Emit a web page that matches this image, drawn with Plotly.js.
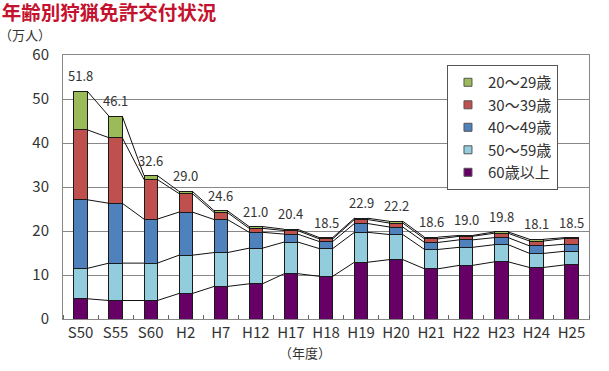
<!DOCTYPE html>
<html><head><meta charset="utf-8">
<script src="https://cdn.plot.ly/plotly-3.0.1.min.js"></script>
<style>html,body{margin:0;padding:0;background:#fff;}#chart{width:609px;height:371px;}</style>
</head><body><div id="chart"></div>
<script>
const categories = ['S50','S55','S60','H2','H7','H12','H17','H18','H19','H20','H21','H22','H23','H24','H25'];
const totalLabels = ['51.8','46.1','32.6','29.0','24.6','21.0','20.4','18.5','22.9','22.2','18.6','19.0','19.8','18.1','18.5'];
const age60plus = [4.6,4.2,4.2,5.8,7.4,8.0,10.3,9.7,12.9,13.5,11.4,12.2,13.0,11.7,12.3];
const age50s = [6.9,8.5,8.5,8.7,7.7,8.1,7.2,6.3,6.8,5.7,4.4,4.1,3.9,3.2,3.1];
const age40s = [15.6,13.6,10.0,9.8,7.5,3.6,1.8,1.6,2.0,1.7,1.6,1.7,1.6,1.7,1.6];
const age30s = [15.9,14.9,9.0,4.2,1.6,0.9,0.8,0.6,0.9,0.9,0.8,0.8,1.0,1.1,1.3];
const age20s = [8.8,4.9,0.9,0.5,0.4,0.4,0.3,0.3,0.3,0.4,0.4,0.2,0.3,0.4,0.2];
const seriesNames = ['60歳以上','50～59歳','40～49歳','30～39歳','20～29歳'];
const seriesColors = ['#660066','#93cddd','#4f81bd','#c0504d','#9bbb59'];

const series = [age60plus, age50s, age40s, age30s, age20s];
const FONT = '"Noto Sans CJK JP", "Noto Sans", sans-serif';
const idx = categories.map((c,i)=>i);
const BW = 0.38;

const traces = [];
series.forEach((vals,k)=>{
  traces.push({type:'bar', x:idx, y:vals, width:BW, name:seriesNames[k], showlegend:false,
    marker:{color:seriesColors[k], line:{color:'#1a1a1a', width:1}}, hoverinfo:'skip'});
});
// series lines connecting stack boundaries
const cum = [];
let run = idx.map(()=>0);
series.forEach(vals=>{ run = run.map((r,i)=>r+vals[i]); cum.push(run.slice()); });
cum.forEach(levels=>{
  const xs=[], ys=[];
  for(let i=0;i<idx.length-1;i++){
    xs.push(idx[i]+BW/2, idx[i+1]-BW/2, null);
    ys.push(levels[i], levels[i+1], null);
  }
  traces.push({type:'scatter', mode:'lines', x:xs, y:ys, showlegend:false, hoverinfo:'skip',
    line:{color:'#111', width:1}});
});
// legend entries (small squares)
series.forEach((vals,k)=>{
  traces.push({type:'scatter', mode:'markers', x:[null], y:[null], name:seriesNames[k],
    marker:{symbol:'square', size:8, color:seriesColors[k], line:{color:'#555', width:1}}});
});

const totals = cum[cum.length-1];
const annotations = idx.map(i=>({x:idx[i], y:totals[i], xref:'x', yref:'y', text:totalLabels[i],
  showarrow:false, yanchor:'bottom', yshift:4, font:{family:FONT, size:13, color:'#333'}}));
annotations.push({xref:'paper', yref:'paper', x:0.46, y:-0.085, yanchor:'top', text:'（年度）',
  showarrow:false, font:{family:FONT, size:13, color:'#333'}});
annotations.push({xref:'paper', yref:'paper', x:-0.125, y:1.035, xanchor:'left', yanchor:'bottom', text:'（万人）',
  showarrow:false, font:{family:FONT, size:13, color:'#333'}});

const layout = {
  width:609, height:371,
  margin:{l:63, r:20, t:55, b:52},
  paper_bgcolor:'#fff', plot_bgcolor:'#fff',
  barmode:'stack',
  title:{text:'<b>年齢別狩猟免許交付状況</b>', x:0.003, xref:'container', xanchor:'left', y:0.965, yanchor:'middle', yref:'container',
    font:{family:FONT, size:19.5, color:'#c4122f'}, pad:{l:0, t:0}},
  xaxis:{type:'linear', range:[-0.5, categories.length-0.5], tickmode:'array', tickvals:idx, ticktext:categories,
    ticks:'', showgrid:false, zeroline:false, showline:true, mirror:true, linecolor:'#888', linewidth:1,
    tickfont:{family:FONT, size:15, color:'#333'},
    minor:{tickmode:'linear', tick0:0.5, dtick:1, ticks:'inside', ticklen:4, tickcolor:'#666', showgrid:false}},
  yaxis:{range:[0,60], dtick:10, tick0:0, showgrid:true, gridcolor:'#888', gridwidth:1, zeroline:false,
    showline:true, mirror:true, linecolor:'#888', linewidth:1, ticks:'', ticklabelstandoff:10,
    tickfont:{family:FONT, size:15, color:'#333'}},
  legend:{x:0.73, y:0.962, xanchor:'left', yanchor:'top', traceorder:'reversed', bgcolor:'#fff',
    bordercolor:'#555', borderwidth:1, font:{family:FONT, size:15, color:'#333'}, itemwidth:30, tracegroupgap:0},
  annotations:annotations,
  showlegend:true
};
Plotly.newPlot('chart', traces, layout, {staticPlot:true, displayModeBar:false});
</script></body></html>
